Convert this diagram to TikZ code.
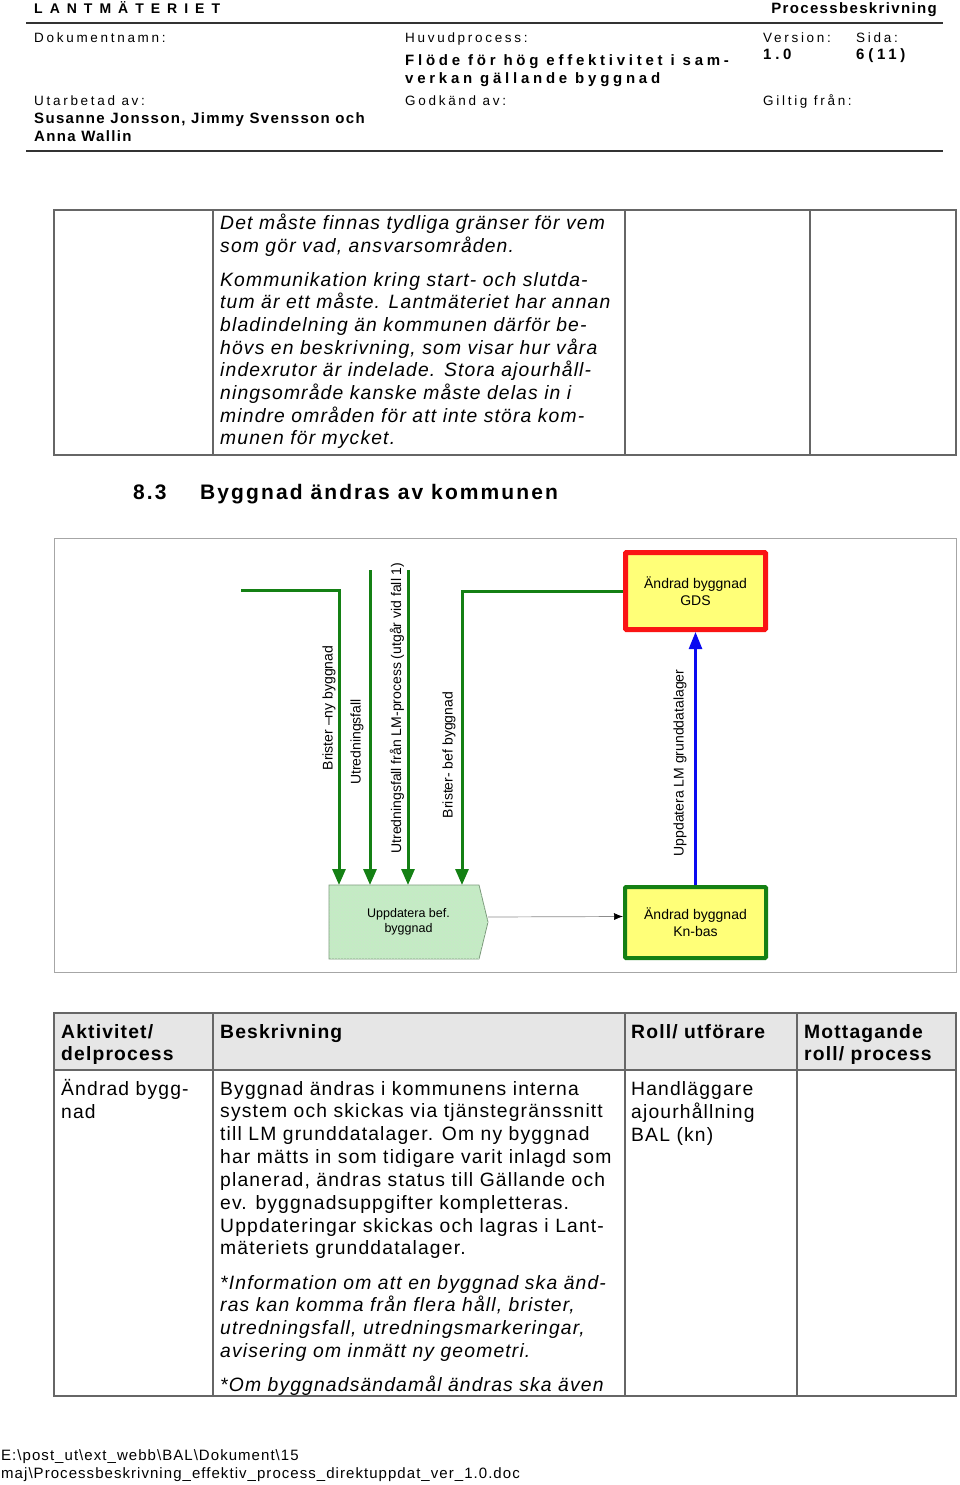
\documentclass[tikz,border=0pt]{standalone}
\usepackage{fontspec}
\setmainfont{Liberation Sans}
\newfontfamily\logofont[LetterSpace=50]{Liberation Sans}
\newfontfamily\fieldfont[LetterSpace=20]{Liberation Sans}
\newfontfamily\titlefont[LetterSpace=25]{Liberation Sans}
\newfontfamily\namefont[LetterSpace=9]{Liberation Sans}
\newfontfamily\bodyfont[LetterSpace=6]{Liberation Sans}
\newfontfamily\sectfont[LetterSpace=10]{Liberation Sans}
\newfontfamily\footfont[LetterSpace=7]{Liberation Sans}
\usetikzlibrary{arrows.meta,positioning,backgrounds,patterns}
\definecolor{lmgreen}{RGB}{20,128,20}
\definecolor{lmred}{RGB}{250,20,20}
\definecolor{lmyellow}{RGB}{255,255,120}
\definecolor{lmblue}{RGB}{10,10,240}
\definecolor{lmpale}{RGB}{196,236,196}
\definecolor{lmhead}{RGB}{230,230,230}

\begin{document}
\begin{tikzpicture}[
  x=1pt,y=-1pt,
  txt/.style={anchor=base west,inner sep=0pt},
  logo/.style={txt,font=\logofont\bfseries\fontsize{14}{17}\selectfont},
  field/.style={txt,font=\fieldfont\fontsize{13.5}{16}\selectfont},
  fieldval/.style={txt,font=\titlefont\bfseries\fontsize{15}{18}\selectfont},
  person/.style={txt,font=\namefont\bfseries\fontsize{15}{18}\selectfont},
  sect/.style={txt,font=\sectfont\bfseries\fontsize{21}{25}\selectfont},
  body/.style={txt,font=\bodyfont\fontsize{19.3}{22}\selectfont},
  bodyit/.style={txt,font=\bodyfont\itshape\fontsize{19.3}{22}\selectfont},
  colhead/.style={txt,font=\bodyfont\bfseries\fontsize{19.3}{22}\selectfont},
  foot/.style={txt,font=\footfont\fontsize{15}{18}\selectfont},
  rule/.style={draw=black!80,line width=1.3pt},
  grid/.style={draw=black!60,line width=1.2pt},
  flow/.style={draw=lmgreen,line width=3pt,-{Triangle[length=16pt,width=13pt]}},
  flowlabel/.style={rotate=90,inner sep=0pt,font=\fontsize{14}{17}\selectfont},
  store/.style={draw=#1,fill=lmyellow,align=center,minimum width=140pt,
    font=\fontsize{14}{17}\selectfont,rounded corners=1pt}
]
\begin{scope}[on background layer]
  \fill[white] (0,0) rectangle (960,1485);
\end{scope}
\useasboundingbox (0,0) rectangle (960,1485);

% page header
\node[logo] (logo) at (34,14) {LANTMÄTERIET};
\node[txt,anchor=base east,font=\namefont\bfseries\fontsize{15}{18}\selectfont] (doctype) at (937,14) {Processbeskrivning};
\draw[rule] (26,23) -- (943,23);
\node[field] (docname) at (34,43) {Dokumentnamn:};
\node[field] (mainproc) at (405,43) {Huvudprocess:};
\node[field] (version) at (763,43) {Version:};
\node[field] (page) at (856,43) {Sida:};
\node[fieldval] (title1) at (405,66) {Flöde för hög effektivitet i sam-};
\node[fieldval] (title2) at (405,84) {verkan gällande byggnad};
\node[fieldval] (versionno) at (763,60) {1.0};
\node[fieldval] (pageno) at (856,60) {6(11)};
\node[field] (madeby) at (34,106) {Utarbetad av:};
\node[field] (approved) at (405,106) {Godkänd av:};
\node[field] (valid) at (763,106) {Giltig från:};
\node[person] (names1) at (34,124) {Susanne Jonsson, Jimmy Svensson och};
\node[person] (names2) at (34,142) {Anna Wallin};
\draw[rule] (26,151) -- (943,151);

% table continued from previous page
\draw[grid] (54,210) rectangle (956,455);
\foreach \cx in {213,625,810}
  \draw[grid] (\cx,210) -- (\cx,455);
\node[bodyit] (n0) at (220,229) {Det måste finnas tydliga gränser för vem};
\node[bodyit] (n1) at (220,252) {som gör vad, ansvarsområden.};
\foreach \l [count=\i from 0] in {Kommunikation kring start- och slutda-,
    tum är ett måste. Lantmäteriet har annan,
    bladindelning än kommunen därför be-,
    {hövs en beskrivning, som visar hur våra},
    indexrutor är indelade. Stora ajourhåll-,
    ningsområde kanske måste delas in i,
    mindre områden för att inte störa kom-,
    munen för mycket.}
  \node[bodyit] (k\i) at (220,{286+22.7*\i}) {\l};

% section heading
\node[sect] (secno) at (133,499) {8.3};
\node[sect] (sectitle) at (200,499) {Byggnad ändras av kommunen};

% process diagram
\draw[draw=black!35,line width=1pt] (54,538) rectangle (956,972);
\node[store=lmred,line width=5pt,minimum height=77pt] (gds) at (695.5,591) {Ändrad byggnad\\GDS};
\node[store=lmgreen,line width=4pt,minimum height=71pt,minimum width=141pt] (knbas) at (695.5,922.5) {Ändrad byggnad\\Kn-bas};
\node[minimum width=159pt,minimum height=74pt,inner sep=0pt,outer sep=0pt,align=center,
  font=\fontsize{12.5}{15}\selectfont] (upd) at (408.5,922) {Uppdatera bef.\\byggnad};
\begin{scope}[on background layer]
  \draw[fill=lmpale,draw=lmgreen!35!gray!80,line width=0.8pt,
    postaction={pattern=crosshatch dots,pattern color=lmgreen!22}]
    (upd.north west) -- ([xshift=-9pt]upd.north east) -- (upd.east)
    -- ([xshift=-9pt]upd.south east) -- (upd.south west) -- cycle;
\end{scope}

\coordinate (b1) at (241,590);
\coordinate (b2) at (370,570);
\coordinate (b3) at (408,570);
\draw[flow] (b1) -| ([xshift=10pt]upd.north west);
\draw[flow] (b2) -- ([xshift=41pt]upd.north west);
\draw[flow] (b3) -- ([xshift=79pt]upd.north west);
\draw[flow] (gds.west) -| ([xshift=133pt]upd.north west);
\draw[draw=lmblue,line width=2.5pt,-{Triangle[length=17pt,width=13pt]}] (knbas.north) -- (gds.south);
\draw[draw=black!45,line width=0.7pt,-{Latex[length=9pt,width=7pt,black]}] ([yshift=5pt]upd.east) -- ([yshift=6pt]knbas.west);

\node[flowlabel] (lab1) at (329,708) {Brister –ny byggnad};
\node[flowlabel] (lab2) at (357,742) {Utredningsfall};
\node[flowlabel] (lab3) at (397,708) {Utredningsfall från LM-process (utgår vid fall 1)};
\node[flowlabel] (lab4) at (449,755) {Brister- bef byggnad};
\node[flowlabel] (lab5) at (680,763) {Uppdatera LM grunddatalager};

% activity table
\fill[lmhead] (54,1013) rectangle (956,1070);
\draw[grid] (54,1013) rectangle (956,1396);
\draw[grid] (54,1070) -- (956,1070);
\foreach \cx in {213,625,797}
  \draw[grid] (\cx,1013) -- (\cx,1396);
\node[colhead] (h1a) at (61,1038) {Aktivitet/};
\node[colhead] (h1b) at (61,1060) {delprocess};
\node[colhead] (h2) at (220,1038) {Beskrivning};
\node[colhead] (h3) at (631,1038) {Roll/ utförare};
\node[colhead] (h4a) at (804,1038) {Mottagande};
\node[colhead] (h4b) at (804,1060) {roll/ process};
\node[body] (act1) at (61,1095) {Ändrad bygg-};
\node[body] (act2) at (61,1118) {nad};
\foreach \l [count=\i from 0] in {Byggnad ändras i kommunens interna,
    system och skickas via tjänstegränssnitt,
    till LM grunddatalager. Om ny byggnad,
    har mätts in som tidigare varit inlagd som,
    {planerad, ändras status till Gällande och},
    ev. byggnadsuppgifter kompletteras.,
    Uppdateringar skickas och lagras i Lant-,
    mäteriets grunddatalager.}
  \node[body] (d\i) at (220,{1095+22.85*\i}) {\l};
\foreach \l [count=\i from 0] in {*Information om att en byggnad ska änd-,
    {ras kan komma från flera håll, brister,},
    {utredningsfall, utredningsmarkeringar,},
    avisering om inmätt ny geometri.}
  \node[bodyit] (f\i) at (220,{1289+22.7*\i}) {\l};
\node[bodyit] (f4) at (220,1391) {*Om byggnadsändamål ändras ska även};
\node[body] (role1) at (631,1095) {Handläggare};
\node[body] (role2) at (631,1118) {ajourhållning};
\node[body] (role3) at (631,1141) {BAL (kn)};

% footer
\node[foot] (path1) at (1,1460) {E:\textbackslash post\_ut\textbackslash ext\_webb\textbackslash BAL\textbackslash Dokument\textbackslash 15};
\node[foot] (path2) at (1,1478) {maj\textbackslash Processbeskrivning\_effektiv\_process\_direktuppdat\_ver\_1.0.doc};
\end{tikzpicture}
\end{document}
